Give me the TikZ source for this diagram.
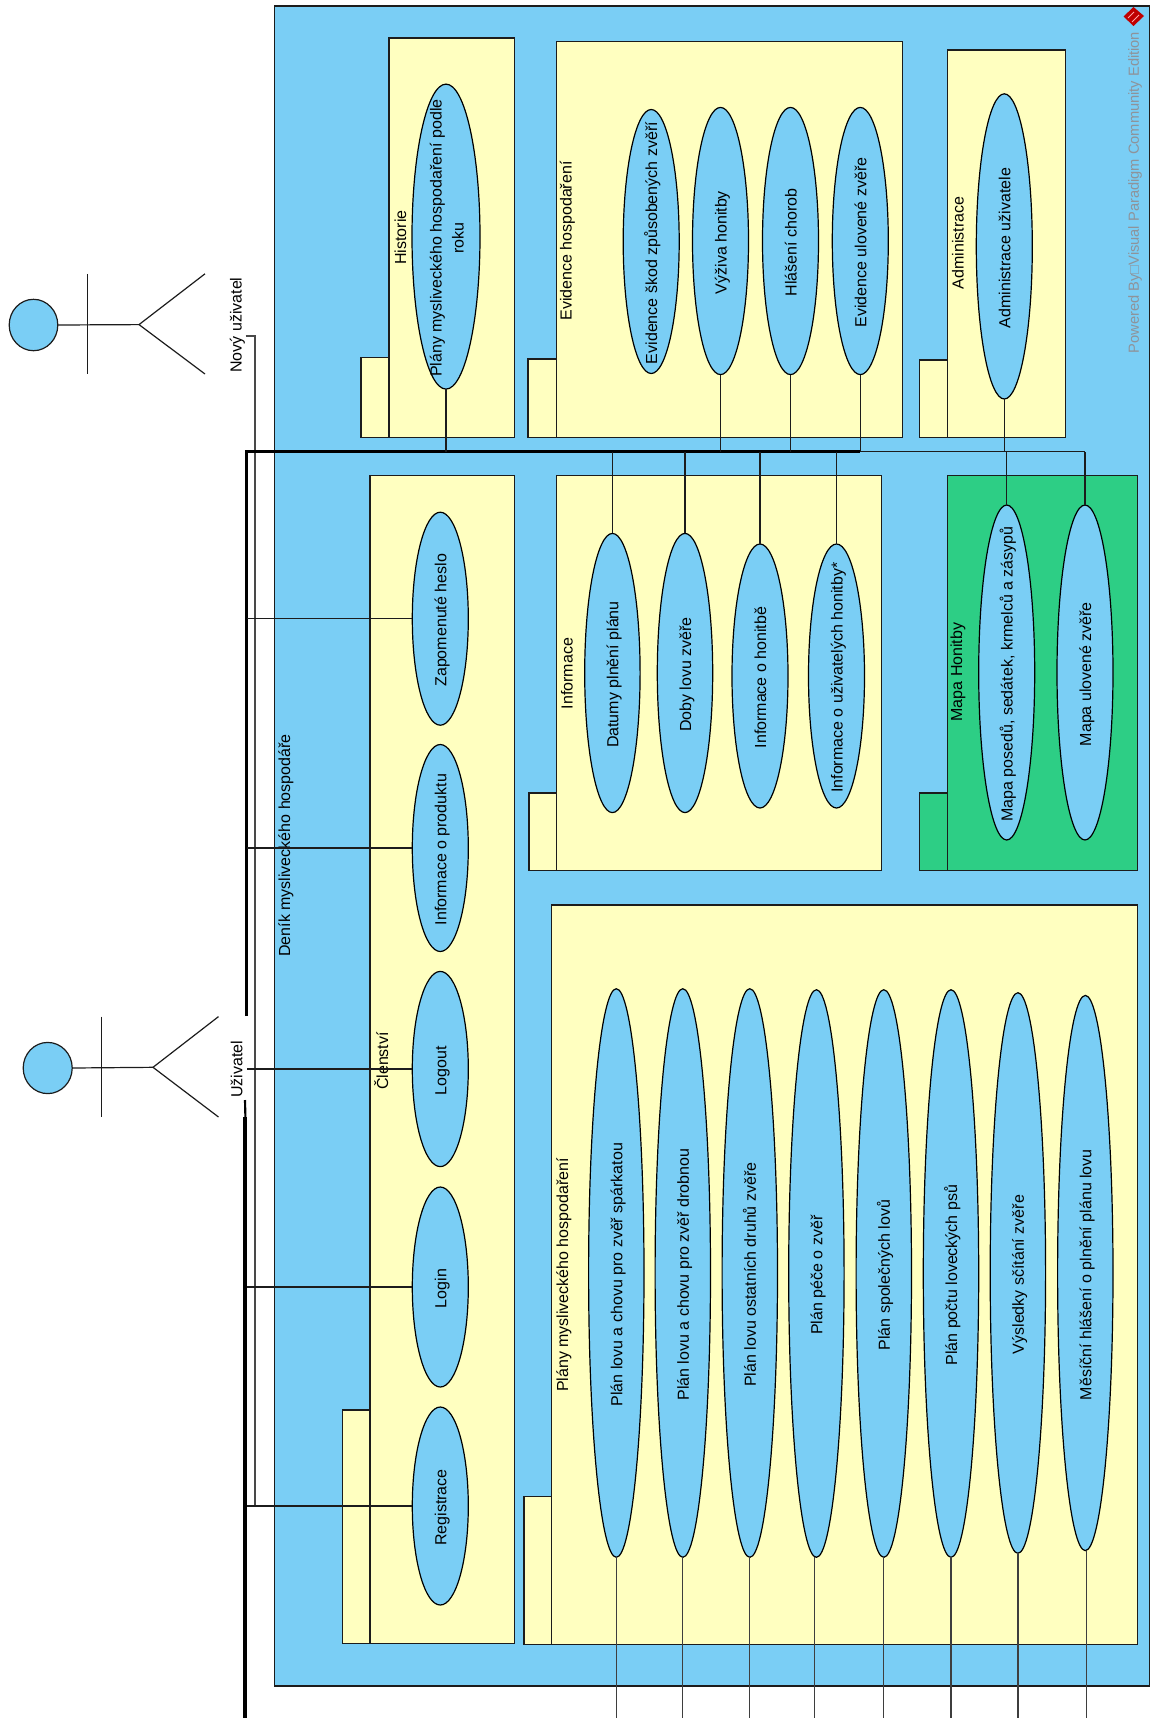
\documentclass[tikz,border=0pt]{standalone}
\usepackage{fontspec}
\setmainfont{Liberation Sans}
\usetikzlibrary{shapes.geometric,calc}
\definecolor{ucblue}{HTML}{7ACEF5}
\definecolor{pkgyellow}{HTML}{FFFFC0}
\definecolor{pkggreen}{HTML}{2DCE85}
\definecolor{linedark}{HTML}{1C1C1C}
\definecolor{wm}{HTML}{8E939A}
\newcommand{\czero}[1]{\makebox[0pt][c]{\hspace*{-2.4pt}\raisebox{-4.5pt}[0pt][0pt]{#1}}}
\tikzset{
  uc/.style={ellipse,draw=black,fill=ucblue,line width=0.9pt,inner sep=0pt,outer sep=0pt,rotate=90,font=\fontsize{12}{17}\selectfont},
  lbl/.style={rotate=90,inner sep=0pt,outer sep=0pt,font=\fontsize{12}{17}\selectfont,text=black},
  box/.style={draw=linedark,line width=0.85pt},
  conn/.style={draw=linedark,line width=1pt},
  busthick/.style={draw=black,line width=1.9pt},
  busthin/.style={draw=linedark,line width=1pt},
  limb/.style={draw=linedark,line width=0.9pt},
}
% name, cx, cy, rx, ry, text
\newcommand{\ucase}[6]{\node[uc,minimum width={2*#5*0.75pt},minimum height={2*#4*0.75pt}] (#1) at (#2,#3) {\czero{#6}};}
% left, top, right, bottom, tab left, tab top, colour
\newcommand{\pkgbox}[7]{
  \draw[box,fill=#7] (#5,#6) rectangle (#1,#4);
  \draw[box,fill=#7] (#1,#2) rectangle (#3,#4);
}
\begin{document}
\begin{tikzpicture}[x=0.75pt,y=-0.75pt]
\useasboundingbox (0,0) rectangle (1151,1718);

% system boundary
\draw[box,fill=ucblue,draw=linedark] (274.5,6) rectangle (1149.5,1686);
\node[lbl] (deniklbl) at (286,845.5) {Deník mysliveckého hospodáře};

% packages
\pkgbox{389}{38}{514.5}{437.4}{361}{357.4}{pkgyellow}
\pkgbox{556.2}{41.5}{902.7}{437.4}{528}{359}{pkgyellow}
\pkgbox{947.2}{50}{1065.6}{437.4}{919.3}{360}{pkgyellow}
\pkgbox{370}{475.7}{514.5}{1643.5}{342.4}{1410}{pkgyellow}
\pkgbox{556.3}{475.7}{881.2}{870.6}{529}{793}{pkgyellow}
\pkgbox{947.2}{475.7}{1137.6}{870.6}{919.3}{793}{pkggreen}
\pkgbox{551.5}{905}{1137.3}{1644.3}{524}{1496.7}{pkgyellow}

\node[lbl] (hist) at (400.5,237.5) {Historie};
\node[lbl] (evid) at (567.5,241) {Evidence hospodaření};
\node[lbl] (adm) at (958,243) {Administrace};
\node[lbl] (clen) at (381.3,1061) {Členství};
\node[lbl] (inf) at (567,673.5) {Informace};
\node[lbl] (mapa) at (958,672) {Mapa Honitby};
\node[lbl] (plan) at (564,1275) {Plány mysliveckého hospodaření};

% named bus ends
\coordinate (busL) at (246.7,451.7);
\coordinate (busM) at (860,451.7);
\coordinate (busR) at (1085,451.7);
\coordinate (gapTop) at (246.7,1016);
\coordinate (gapBot) at (245,1100);
\coordinate (heavyTop) at (245.4,1117);
\coordinate (heavyEnd) at (245.4,1718);
\coordinate (noteStub) at (245.6,335.8);
\coordinate (noteCorner) at (255,335.8);
\coordinate (bottomEnd) at (0,1718);

% use cases
\ucase{plany}{446}{236.6}{34}{152.5}{\begin{tabular}{@{}c@{}}Plány mysliveckého hospodaření podle\\[-0.5pt]roku\end{tabular}}
\ucase{skod}{651.2}{241.5}{28}{132}{Evidence škod způsobených zvěří}
\ucase{vyziva}{720.5}{241}{28}{133.6}{Výživa honitby}
\ucase{hlaseni}{790.5}{241}{28}{133.6}{Hlášení chorob}
\ucase{ulov}{860.3}{241}{28}{133.6}{Evidence ulovené zvěře}
\ucase{admu}{1004.3}{246.4}{28}{152.6}{Administrace uživatele}

\ucase{zapom}{440.3}{618.7}{28}{106.5}{Zapomenuté heslo}
\ucase{produkt}{440.3}{848}{28}{103.5}{Informace o produktu}
\ucase{logout}{440.3}{1069}{28}{97.6}{Logout}
\ucase{login}{440.3}{1287}{28}{100}{Login}
\ucase{regist}{440.3}{1506}{28}{99}{Registrace}

\ucase{datum}{612.4}{673}{27.7}{139.6}{Datumy plnění plánu}
\ucase{doby}{685}{673}{27.7}{139.6}{Doby lovu zvěře}
\ucase{infhon}{760}{676}{28}{132}{Informace o honitbě}
\ucase{infuz}{836.5}{676}{28}{132}{Informace o uživatelých honitby*}

\ucase{mposed}{1006.7}{672.5}{28}{167.5}{Mapa posedů, sedátek, krmelců a zásypů}
\ucase{mulov}{1085}{672.5}{28}{167.5}{Mapa ulovené zvěře}

\ucase{pa}{616.3}{1273}{27.7}{284.3}{Plán lovu a chovu pro zvěř spárkatou}
\ucase{pb}{682.8}{1273}{27.7}{284.3}{Plán lovu a chovu pro zvěř drobnou}
\ucase{pc}{749.8}{1273}{27.7}{284.3}{Plán lovu ostatních druhů zvěře}
\ucase{pd}{816.4}{1273.5}{27.7}{283.8}{Plán péče o zvěř}
\ucase{pe}{883.8}{1273.5}{27.7}{283.8}{Plán společných lovů}
\ucase{pf}{951}{1273.5}{27.7}{283.8}{Plán počtu loveckých psů}
\ucase{pg}{1017.9}{1273}{27.7}{280.3}{Výsledky sčítání zvěře}
\ucase{ph}{1085.3}{1273}{27.7}{277.6}{Měsíční hlášení o plnění plánu lovu}

% actors
\node[ellipse,draw=linedark,fill=ucblue,line width=0.9pt,minimum width={2*24.3*0.75pt},minimum height={2*25.7*0.75pt},inner sep=0pt,outer sep=0pt] (novyhead) at (33.5,325) {};
\coordinate (novyhip) at (139,324.6);
\draw[limb] (novyhead.east) -- (novyhip);
\draw[limb] (87.5,273.8) -- (87.5,374);
\draw[limb] (205,273.8) -- (novyhip) -- (205,374);
\node[lbl] (novylbl) at (237.4,325) {Nový uživatel};

\node[ellipse,draw=linedark,fill=ucblue,line width=0.9pt,minimum width={2*24.5*0.75pt},minimum height={2*25.6*0.75pt},inner sep=0pt,outer sep=0pt] (uzhead) at (47.7,1068) {};
\coordinate (uzhip) at (153,1067.3);
\draw[limb] (uzhead.east) -- (uzhip);
\draw[limb] (101.4,1016.6) -- (101.4,1117);
\draw[limb] (218.5,1016.6) -- (uzhip) -- (218.5,1117);
\node[lbl] (uzlbl) at (236.7,1069.5) {Uživatel};

% Nový uživatel connector
\draw[draw=linedark!80,line width=1.6pt,line join=miter] (noteStub) -- (noteCorner) -- (noteCorner |- regist.north);

% Uživatel bus
\draw[busthick] (gapTop) -- (busL) -- (busM);
\draw[busthin] (busM) -- (busR);
\draw[draw=black,line width=1.6pt] (gapBot) -- (heavyTop);
\draw[draw=black,line width=3pt] (heavyTop) -- (heavyEnd);

% connectors to the left
\draw[conn] (zapom.north) -- (zapom.north -| busL);
\draw[conn] (produkt.north) -- (produkt.north -| busL);
\draw[conn] (logout.north) -- (logout.north -| busL);
\draw[conn,line width=1.4pt] (login.north) -- (login.north -| busL);
\draw[conn] (regist.north) -- (regist.north -| busL);

% connectors rising to the bus
\draw[conn] (plany.west) -- (plany.west |- busL);
\draw[conn] (vyziva.west) -- (vyziva.west |- busL);
\draw[conn] (hlaseni.west) -- (hlaseni.west |- busL);
\draw[conn] (ulov.west) -- (ulov.west |- busL);
\draw[conn] (admu.west) -- (admu.west |- busL);

% connectors falling from the bus
\draw[conn] (datum.east) -- (datum.east |- busL);
\draw[conn] (doby.east) -- (doby.east |- busL);
\draw[conn] (infhon.east) -- (infhon.east |- busL);
\draw[conn,line width=1.3pt] (infuz.east) -- (infuz.east |- busL);
\draw[conn] (mposed.east) -- (mposed.east |- busL);
\draw[conn] (mulov.east) -- (mulov.east |- busR);

% connectors leaving the page
\foreach \n in {pa,pb,pc,pe,pf,pg}{
  \draw[conn,draw=linedark!85] (\n.west) -- (\n.west |- bottomEnd);
}
\draw[conn,draw=linedark!85] ([xshift=-1.5pt]pd.west) -- ([xshift=-1.5pt]pd.west |- bottomEnd);
\draw[conn,draw=linedark!85] ([xshift=1pt]ph.west) -- ([xshift=1pt]ph.west |- bottomEnd);

% watermark
\node[rotate=90,inner sep=0pt,text=wm,font=\fontsize{11}{13}\selectfont] (wmark) at (1135,192.6) {Powered By□Visual Paradigm Community Edition};
\fill[red!75!black] (1123.5,16.5) -- (1133.5,7) -- (1144,16) -- (1133.5,26) -- cycle;
\draw[red!35!white,line width=0.7pt] (1128,18) -- (1134,12) (1132,22) -- (1139,15);
\end{tikzpicture}
\end{document}
